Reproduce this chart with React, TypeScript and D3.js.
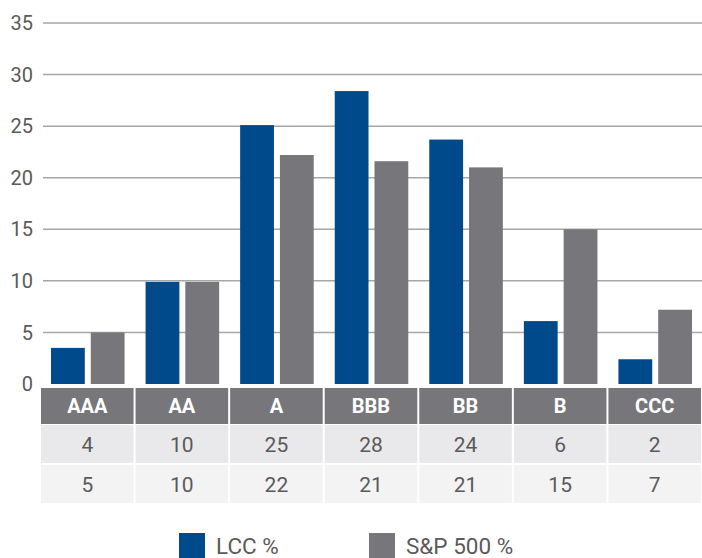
import React from "react";
import * as d3 from "d3";

const categories = ["AAA", "AA", "A", "BBB", "BB", "B", "CCC"];
const seriesNames = ["LCC %", "S&P 500 %"];
const lccValues = [3.5, 9.9, 25.1, 28.4, 23.7, 6.1, 2.4];
const spValues = [5.0, 9.9, 22.2, 21.6, 21.0, 15.0, 7.2];
const lccTable = ["4", "10", "25", "28", "24", "6", "2"];
const spTable = ["5", "10", "22", "21", "21", "15", "7"];
const yTicks = [0, 5, 10, 15, 20, 25, 30, 35];

const W = 702;
const H = 558;
const BLUE = "#004a8c";
const GRAY = "#77777b";
const FONT = "Roboto, 'Liberation Sans', Arial, sans-serif";

export default function App() {
  const x = d3.scaleBand<string>().domain(categories).range([40, 702]).paddingInner(0).paddingOuter(0);
  const inner = d3.scaleBand<string>().domain(seriesNames).range([11, x.bandwidth() - 10]).paddingInner(0.15);
  const y = d3.scaleLinear().domain([0, 35]).range([384, 23]);
  const series = [lccValues, spValues];
  const colors = [BLUE, GRAY];
  const tableRows = [lccTable, spTable];
  const rowFills = ["#e9e9eb", "#f3f3f4"];
  const headerY = 388;
  const headerH = 36;
  const rowH = 38;

  return (
    <svg width={W} height={H} style={{ position: "absolute", left: 0, top: 0, background: "#fff" }} fontFamily={FONT}>
      <rect x={0} y={0} width={W} height={H} fill="#fff" />
      {yTicks.map((t) => (
        <g key={t}>
          {t > 0 && <line x1={43} x2={702} y1={y(t)} y2={y(t)} stroke="#a6a6a6" strokeWidth={1.5} />}
          <text x={33} y={y(t)} dy="0.36em" textAnchor="end" fontSize={20} fill="#5a5a5a">
            {t}
          </text>
        </g>
      ))}
      {series.map((vals, si) =>
        vals.map((v, i) => (
          <rect
            key={`${si}-${i}`}
            x={(x(categories[i]) as number) + (inner(seriesNames[si]) as number)}
            y={y(v)}
            width={inner.bandwidth()}
            height={y(0) - y(v)}
            fill={colors[si]}
          />
        ))
      )}
      {categories.map((c) => (
        <g key={c}>
          <rect x={(x(c) as number) + 1} y={headerY} width={x.bandwidth() - 2} height={headerH} fill={GRAY} />
          <text
            x={(x(c) as number) + x.bandwidth() / 2}
            y={headerY + headerH / 2}
            dy="0.36em"
            textAnchor="middle"
            fontSize={20}
            fontWeight="bold"
            fill="#fff"
          >
            {c}
          </text>
        </g>
      ))}
      {tableRows.map((row, ri) =>
        row.map((v, i) => {
          const ry = headerY + headerH + 1 + ri * (rowH + 2);
          return (
            <g key={`${ri}-${i}`}>
              <rect x={(x(categories[i]) as number) + 1} y={ry} width={x.bandwidth() - 2} height={rowH} fill={rowFills[ri]} />
              <text
                x={(x(categories[i]) as number) + x.bandwidth() / 2}
                y={ry + rowH / 2}
                dy="0.36em"
                textAnchor="middle"
                fontSize={21}
                fill="#5a5a5a"
              >
                {v}
              </text>
            </g>
          );
        })
      )}
      {seriesNames.map((s, si) => {
        const lx = si === 0 ? 179 : 369;
        return (
          <g key={s}>
            <rect x={lx} y={533} width={26} height={25} fill={colors[si]} />
            <text x={lx + 37} y={554} fontSize={22.5} fill="#5a5a5a">
              {s}
            </text>
          </g>
        );
      })}
    </svg>
  );
}
